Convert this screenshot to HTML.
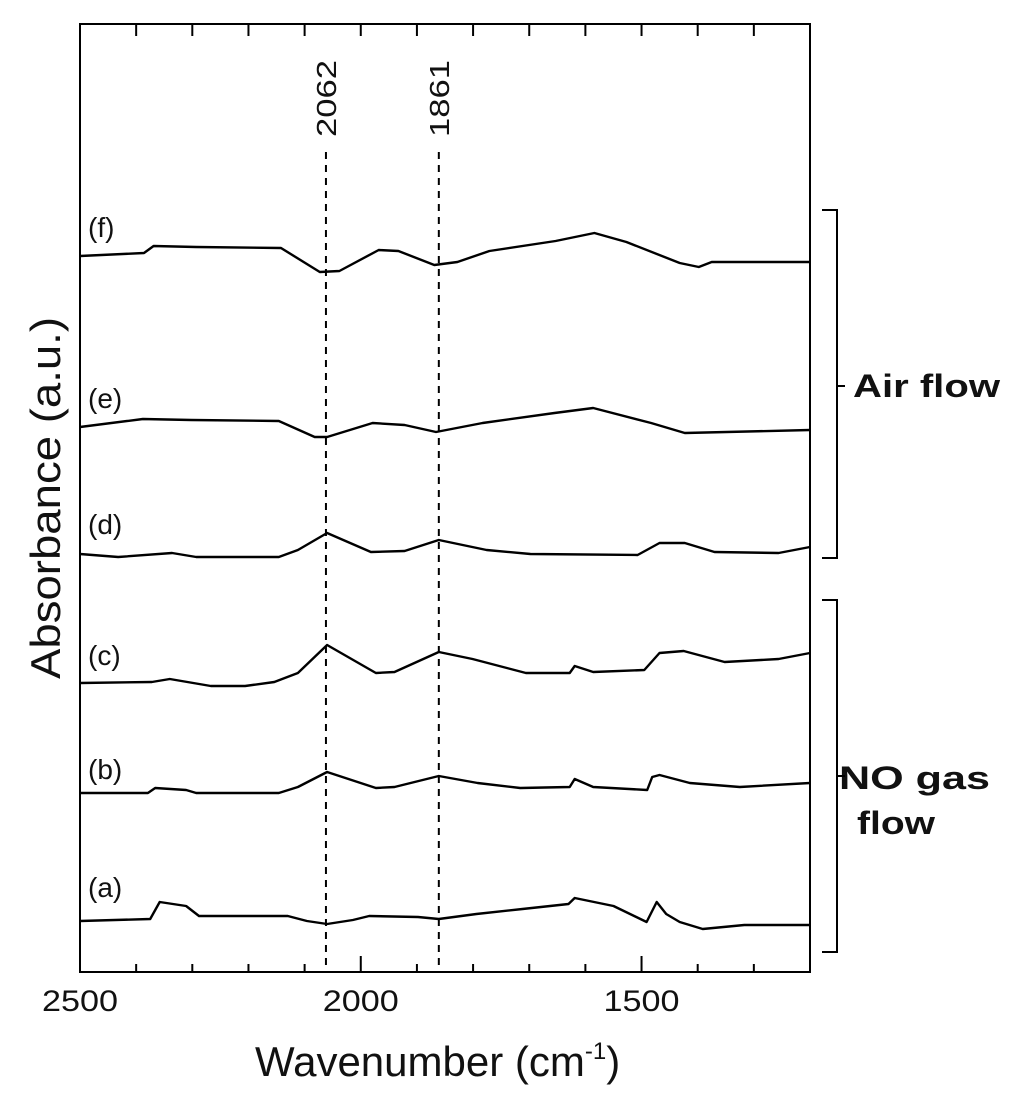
<!DOCTYPE html>
<html><head><meta charset="utf-8"><style>
body{margin:0;background:#fff;overflow:hidden;}
svg{display:block;font-family:"Liberation Sans",Arial,sans-serif;}
</style></head><body>
<svg id="chart" width="1024" height="1110" viewBox="0 0 1024 1110" xmlns="http://www.w3.org/2000/svg">
<g id="axes"></g>
<g id="marks"></g>
<g id="labels"></g>
<text x="853" y="397" font-size="32" font-weight="bold" fill="#111" textLength="147" lengthAdjust="spacingAndGlyphs">Air flow</text>
<text x="839" y="789" font-size="32" font-weight="bold" fill="#111" textLength="151" lengthAdjust="spacingAndGlyphs">NO gas</text>
<text x="857" y="834" font-size="32" font-weight="bold" fill="#111" textLength="78" lengthAdjust="spacingAndGlyphs">flow</text>
<text transform="translate(60,498) rotate(-90)" text-anchor="middle" font-size="42" fill="#111" textLength="362" lengthAdjust="spacingAndGlyphs">Absorbance (a.u.)</text>
<text x="255" y="1076" font-size="42" fill="#111">Wavenumber (cm<tspan dy="-17" font-size="24">-1</tspan><tspan dy="17">)</tspan></text>
</svg>
<script>
// x tick data
const xTickValues = [2500, 2000, 1500];
const xTickLabels = ["2500", "2000", "1500"];
const xMinorTicks = [2400,2300,2200,2100,1900,1800,1700,1600,1400,1300];
const peakPositions = [2062, 1861];
const peakLabels = ["2062", "1861"];
const seriesNames = ["(a)","(b)","(c)","(d)","(e)","(f)"];
// series data: wavenumber and absorbance (arbitrary units, offset-stacked)
const aW = [2500,2375,2358,2311,2288,2130,2096,2060,2014,1985,1898,1861,1794,1712,1630,1619,1550,1491,1473,1456,1432,1391,1317,1200];
const aV = [49,51,68,64,54,54,49,46,50,54,53,51,56,61,66,72,64,48,68,56,48,41,45,45];
const bW = [2500,2379,2366,2311,2293,2146,2112,2060,1973,1940,1861,1792,1716,1628,1619,1586,1490,1481,1468,1414,1325,1200];
const bV = [177,177,182,180,177,177,183,198,182,183,194,187,182,183,191,183,180,193,195,187,183,187];
const cW = [2500,2372,2340,2267,2206,2154,2112,2060,1973,1940,1861,1801,1706,1628,1619,1586,1495,1468,1425,1352,1256,1200];
const cV = [287,288,291,284,284,288,297,325,297,298,318,311,297,297,304,298,300,317,319,308,311,317];
const dW = [2500,2432,2336,2293,2146,2112,2060,1982,1922,1861,1776,1698,1507,1468,1423,1370,1256,1200];
const dV = [416,413,417,413,413,420,437,418,419,430,420,416,415,427,427,418,417,423];
const eW = [2500,2388,2302,2146,2082,2060,1979,1922,1866,1783,1655,1586,1483,1423,1200];
const eV = [543,551,550,549,533,533,547,545,538,547,557,562,547,537,540];
const fW = [2500,2386,2369,2293,2142,2073,2038,1968,1933,1869,1828,1771,1653,1584,1527,1432,1398,1375,1200];
const fV = [714,717,724,723,722,698,699,720,719,705,708,719,729,737,728,707,703,708,708];

const L=80,R=810,T=24,B=972;
const xMax=2500,xMin=1200;
function xs(w){return L+(xMax-w)/(xMax-xMin)*(R-L);}
function ys(v){return 970-v;}
const NS="http://www.w3.org/2000/svg";
function mk(tag,attrs,parent){const e=document.createElementNS(NS,tag);for(const k in attrs)e.setAttribute(k,attrs[k]);parent.appendChild(e);return e;}
const svg=document.getElementById('chart');
const axes=document.getElementById('axes'),marks=document.getElementById('marks'),labels=document.getElementById('labels');

let frame=mk('rect',{x:L,y:T,width:R-L,height:B-T,fill:'none',stroke:'#000','stroke-width':2},axes);


xTickValues.forEach((v,i)=>{
  const x=xs(v);
  let t=mk('line',{x1:x,x2:x,y1:B,y2:B-16,stroke:'#000','stroke-width':2},axes);
  
  
  let t2=mk('line',{x1:x,x2:x,y1:T,y2:T+12,stroke:'#000','stroke-width':2},axes);
  
  
  let lb=mk('text',{x:x-38,y:1011,'font-size':30,fill:'#111',textLength:76,lengthAdjust:'spacingAndGlyphs'},axes);
  lb.textContent=xTickLabels[i];
  
  
});
xMinorTicks.forEach(v=>{
  const x=xs(v);
  let t=mk('line',{x1:x,x2:x,y1:B,y2:B-8,stroke:'#000','stroke-width':2},axes);
  
  
  let t2=mk('line',{x1:x,x2:x,y1:T,y2:T+12,stroke:'#000','stroke-width':2},axes);
  
  
});
peakPositions.forEach((p,i)=>{
  const x=xs(p);
  let l=mk('line',{x1:x,x2:x,y1:152,y2:970,stroke:'#000','stroke-width':2,'stroke-dasharray':'7,6'},marks);
  
  
  let tx=mk('text',{x:0,y:0,transform:`translate(${x+10},137) rotate(-90)`,'font-size':28,fill:'#111',textLength:77,lengthAdjust:'spacingAndGlyphs'},labels);
  tx.textContent=peakLabels[i];
  
  
});
const seriesW=[aW,bW,cW,dW,eW,fW], seriesV=[aV,bV,cV,dV,eV,fV];
const labelY=[897,779,665,534,408,237];
seriesW.forEach((W,i)=>{
  const V=seriesV[i];
  const d=W.map((w,j)=>(j?'L':'M')+xs(w).toFixed(1)+','+ys(V[j]).toFixed(1)).join(' ');
  let p=mk('path',{d:d,fill:'none',stroke:'#000','stroke-width':2.4,'stroke-linejoin':'round'},marks);
  
  
  let t=mk('text',{x:88,y:labelY[i],'font-size':28,fill:'#111'},labels);
  t.textContent=seriesNames[i];
  
  
});
function br(y1,y2,ym,name){
  const g=mk('path',{d:`M822,${y1} L837,${y1} L837,${y2} L822,${y2} M837,${ym} L845,${ym}`,fill:'none',stroke:'#000','stroke-width':2},svg);
  
  
}
br(210,558,386,'air-flow-bracket');
br(600,952,776,'no-gas-bracket');
</script>
</body></html>
